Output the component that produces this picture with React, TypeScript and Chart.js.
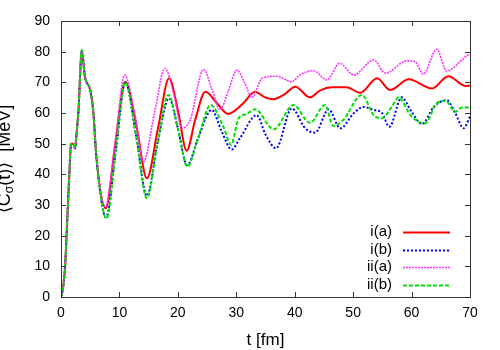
import React, { useEffect, useRef } from "react";
import { Chart, registerables } from "chart.js";

Chart.register(...registerables);

// shared early rise (t in fm, value in MeV)
const tEarly = [0, 0.35, 0.7, 1.0, 1.25, 1.5, 1.7, 2.1, 2.4, 2.7, 3.0, 3.55, 4.1, 5.0, 5.5, 6.1];
const vEarly = [0, 3, 10, 22, 32.7, 43, 50, 50, 48.5, 54, 61, 80.5, 71.8, 67.5, 61, 44.7];

const tIa = [7.65, 9.3, 11, 12.9, 14.7, 16.6, 18.5, 20, 21.5, 23, 24.7, 26.7, 28.6, 31.2, 33.2, 34.9, 36.4, 38.1, 40.1, 42.6, 44.3, 46.4, 48.9, 51.2, 54.1, 56.3, 59.5, 63.5, 66.3, 69.2, 70];
const vIa = [28.9, 50, 70.2, 56, 38.7, 55, 71.3, 61, 47.7, 58, 66.9, 63.2, 59.7, 63.2, 66.9, 65.1, 64.5, 65.9, 68.6, 65.1, 67.3, 68.4, 68.4, 66.6, 71.3, 67.5, 71, 68, 72, 68.8, 69];

const tIb = [7.7, 9.4, 11, 12.9, 14.7, 16.5, 18.5, 20, 21.6, 23.5, 25.8, 27.5, 29.2, 30.6, 33.5, 35, 36.8, 39.5, 41.8, 43.5, 45.8, 47.8, 50.1, 51.8, 53.5, 54.9, 56.2, 58.3, 60, 61.8, 63.8, 66, 67.5, 68.9, 70];
const vIb = [26, 48, 70, 52, 33, 50, 64.8, 55, 43, 52, 61, 54, 48.1, 51.7, 59.3, 53, 48.5, 61.5, 55, 53.6, 61.2, 55, 59.9, 62, 61, 60.1, 55.5, 65.1, 60.4, 56.4, 62, 64.2, 59.9, 55, 58.8];

const tIIa = [7.6, 9.3, 10.9, 12.6, 14.1, 16, 17.8, 19.3, 20.7, 22.1, 24.4, 25.8, 27.2, 28.6, 30.1, 31.4, 32.7, 34.4, 36.9, 39.5, 40.9, 43.2, 45.5, 47.7, 50.1, 53.5, 55.5, 59.2, 60.6, 62, 64.3, 66, 69.7, 70];
const vIIa = [29.5, 51, 72.4, 60, 44.1, 60, 74.6, 66, 55, 57.7, 74.2, 68, 61, 67, 74, 70, 65.1, 71.3, 72, 70.2, 72.4, 73.8, 70.8, 76.2, 72.4, 77.3, 73, 77, 76.7, 72.7, 80.8, 73.7, 78.9, 79];

const tIIb = [7.8, 9.4, 11, 12.9, 14.7, 16.5, 18.4, 20, 21.6, 23.5, 25.6, 27.8, 29.1, 30.4, 31.8, 33.2, 36.4, 39.8, 42.6, 45.2, 46.6, 48.3, 51.5, 53.5, 54.9, 56.6, 57.8, 59.8, 62.3, 64.3, 65.8, 67.5, 68.6, 70];
const vIIb = [25.6, 48, 70, 52, 32.2, 50, 65.9, 55, 42.5, 52, 62.6, 55.5, 49.6, 58.3, 59.7, 61.2, 54.7, 62.6, 56.8, 62.6, 55.8, 57.7, 65.9, 59.3, 58.3, 62, 65.1, 59.3, 56.6, 63.2, 64, 60.4, 61.8, 61.8];

const labels = ["i(a)", "i(b)", "ii(a)", "ii(b)"];
const xTicks = [0, 10, 20, 30, 40, 50, 60, 70];
const yTicks = [0, 10, 20, 30, 40, 50, 60, 70, 80, 90];

const pts = (t: number[], v: number[]) =>
  tEarly.concat(t).map((x, i) => ({ x, y: vEarly.concat(v)[i] }));

const FONT = "'Liberation Sans', Arial, Helvetica, sans-serif";

const framePlugin = {
  id: "frame",
  afterDatasetsDraw(chart: any) {
    const { ctx, chartArea: a, scales } = chart;
    const xs = scales.x, ys = scales.y;
    ctx.save();
    ctx.strokeStyle = "#333";
    ctx.lineWidth = 1;
    ctx.beginPath();
    const L = 5;
    xTicks.forEach((v) => {
      const px = Math.round(xs.getPixelForValue(v)) + 0.5;
      ctx.moveTo(px, a.bottom); ctx.lineTo(px, a.bottom - L);
      ctx.moveTo(px, a.top); ctx.lineTo(px, a.top + L);
    });
    yTicks.forEach((v) => {
      const py = Math.round(ys.getPixelForValue(v)) + 0.5;
      ctx.moveTo(a.left, py); ctx.lineTo(a.left + L, py);
      ctx.moveTo(a.right, py); ctx.lineTo(a.right - L, py);
    });
    ctx.stroke();
    ctx.strokeRect(Math.round(a.left) + 0.5, Math.round(a.top) + 0.5, Math.round(a.right - a.left), Math.round(a.bottom - a.top));

    // legend (text left of sample)
    const rows = [232, 250, 267, 285];
    chart.data.datasets.forEach((ds: any, i: number) => {
      const y = rows[i];
      ctx.font = `15px ${FONT}`;
      ctx.fillStyle = "#000";
      ctx.textAlign = "right";
      ctx.textBaseline = "middle";
      ctx.fillText(ds.label, 392, y);
      ctx.beginPath();
      ctx.strokeStyle = ds.borderColor;
      ctx.lineWidth = ds.borderWidth;
      ctx.setLineDash(ds.borderDash || []);
      ctx.moveTo(403, y + 0.5);
      ctx.lineTo(450, y + 0.5);
      ctx.stroke();
      ctx.setLineDash([]);
    });

    // axis titles
    ctx.fillStyle = "#000";
    ctx.font = `17px ${FONT}`;
    ctx.textAlign = "center";
    ctx.textBaseline = "middle";
    ctx.fillText("t [fm]", (a.left + a.right) / 2, 340);

    ctx.save();
    ctx.translate(10, (a.top + a.bottom) / 2);
    ctx.rotate(-Math.PI / 2);
    const p1 = "\u27E8C", p2 = "\u03C3", p3 = "(t)\u27E9  [MeV]";
    ctx.font = `18px ${FONT}`;
    const w1 = ctx.measureText(p1).width;
    const w3 = ctx.measureText(p3).width;
    ctx.font = `12px ${FONT}`;
    const w2 = ctx.measureText(p2).width;
    let x0 = -(w1 + w2 + w3) / 2;
    ctx.textAlign = "left";
    ctx.textBaseline = "alphabetic";
    ctx.font = `18px ${FONT}`;
    ctx.fillText(p1, x0, 0);
    x0 += w1;
    ctx.font = `12px ${FONT}`;
    ctx.fillText(p2, x0, 3);
    x0 += w2;
    ctx.font = `18px ${FONT}`;
    ctx.fillText(p3, x0, 0);
    ctx.restore();
    ctx.restore();
  },
};

export default function App() {
  const ref = useRef<HTMLCanvasElement>(null);
  useEffect(() => {
    document.body.style.margin = "0";
    const chart = new Chart(ref.current!, {
      type: "line",
      data: {
        datasets: [
          { label: labels[0], data: pts(tIa, vIa), borderColor: "#ff0000", borderWidth: 2, order: 3 },
          { label: labels[1], data: pts(tIb, vIb), borderColor: "#0000ff", borderWidth: 2, borderDash: [2, 2], order: 2 },
          { label: labels[2], data: pts(tIIa, vIIa), borderColor: "#ff33ff", borderWidth: 1.6, borderDash: [2, 1], order: 1 },
          { label: labels[3], data: pts(tIIb, vIIb), borderColor: "#00e000", borderWidth: 2, borderDash: [4, 2], order: 0 },
        ] as any,
      },
      options: {
        animation: false,
        responsive: false,
        maintainAspectRatio: false,
        layout: { padding: { left: 0, right: 30, top: 21, bottom: 0 } },
        elements: {
          point: { radius: 0 },
          line: { cubicInterpolationMode: "monotone", fill: false },
        },
        plugins: { legend: { display: false }, tooltip: { enabled: false } },
        scales: {
          x: {
            type: "linear",
            min: 0,
            max: 70,
            ticks: { stepSize: 10, color: "#000", font: { family: FONT, size: 14 }, padding: 8, maxRotation: 0 },
            grid: { display: false, drawTicks: false },
            border: { display: false },
            afterFit: (s: any) => { s.height = 53; },
          },
          y: {
            min: 0,
            max: 90,
            ticks: { stepSize: 10, color: "#000", font: { family: FONT, size: 14 }, padding: 11 },
            grid: { display: false, drawTicks: false },
            border: { display: false },
            afterFit: (s: any) => { s.width = 61; },
          },
        },
      },
      plugins: [framePlugin],
    });
    return () => chart.destroy();
  }, []);
  return (
    <div style={{ width: 500, height: 350 }}>
      <canvas ref={ref} width={500} height={350} style={{ display: "block" }} />
    </div>
  );
}
